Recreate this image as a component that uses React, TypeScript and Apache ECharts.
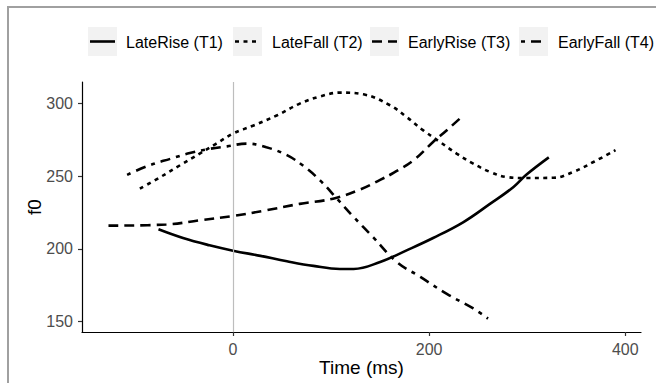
import React, { useEffect, useRef } from "react";
import * as echarts from "echarts";

const seriesNames = ["LateRise (T1)", "LateFall (T2)", "EarlyRise (T3)", "EarlyFall (T4)"];

const t1X = [-76, -51, -24, 0, 28, 55, 82, 109, 123, 150, 177, 204, 235, 262, 286, 299, 322];
const t1Y = [213.5, 207.5, 202.5, 198.8, 195.2, 191.5, 188.3, 186.2, 186.2, 191, 199, 207.5, 218.5, 231, 242.6, 251, 263];

const t2X = [-95, -74, -54, -34, -17, 0, 21, 45, 68, 89, 109, 133, 160, 177, 194, 211, 228, 245, 262, 279, 299, 327, 347, 368, 390];
const t2Y = [241.5, 249.5, 257.6, 265.6, 272.5, 279.4, 285, 292, 300, 305, 307.6, 306.4, 298.9, 290.8, 281.6, 273.6, 265.6, 258.7, 253, 249.5, 248.8, 249, 253, 260, 268];

const t3X = [-127, -68, -34, 0, 34, 68, 102, 130, 150, 164, 184, 204, 218, 233];
const t3Y = [216, 216.8, 219.7, 222.7, 226.6, 231, 234.6, 241, 247.5, 252.5, 261, 273.6, 281.7, 290.8];

const t4X = [-108, -85, -64, -44, -23, -6, 14, 34, 55, 72, 89, 106, 123, 143, 167, 191, 218, 245, 260];
const t4Y = [251, 257.6, 262, 266, 269, 270.6, 272.5, 270, 264.5, 257, 247, 234.6, 222, 208, 191, 180.7, 169, 159, 152];

const xTicks = [0, 200, 400];
const yTicks = [150, 200, 250, 300];

const FONT = "'Liberation Sans', Arial, sans-serif";
const dashTypes: any[] = ["solid", [4, 4.5], [10, 6], [4, 6, 10, 6]];

function pairs(xs: number[], ys: number[]) {
  return xs.map((x, i) => [x, ys[i]]);
}

export default function App() {
  const ref = useRef<HTMLDivElement>(null);
  useEffect(() => {
    if (!ref.current) return;
    const chart = echarts.init(ref.current, null, { renderer: "svg" });
    const allData = [pairs(t1X, t1Y), pairs(t2X, t2Y), pairs(t3X, t3Y), pairs(t4X, t4Y)];

    const keyX = [88, 233, 370, 519];
    const textX = [126, 272, 408, 558];
    const legendGraphics: any[] = [];
    seriesNames.forEach((name, i) => {
      legendGraphics.push({
        type: "rect",
        shape: { x: keyX[i], y: 27, width: 29, height: 29 },
        style: { fill: "#f2f2f2" },
        silent: true,
      });
      legendGraphics.push({
        type: "line",
        shape: { x1: keyX[i] + 2, y1: 41.5, x2: keyX[i] + 27, y2: 41.5 },
        style: {
          stroke: "#000",
          lineWidth: 2.6,
          lineDash: dashTypes[i] === "solid" ? null : dashTypes[i],
        },
        silent: true,
      });
      legendGraphics.push({
        type: "text",
        x: textX[i],
        y: 42,
        style: {
          text: name,
          fontSize: 16,
          fontFamily: FONT,
          fill: "#000",
          verticalAlign: "middle",
          align: "left",
        },
        silent: true,
      });
    });

    const option: any = {
      animation: false,
      backgroundColor: "#fff",
      grid: { left: 82, right: 15, top: 82, bottom: 51 },
      xAxis: {
        type: "value",
        min: -154,
        max: 416,
        name: "Time (ms)",
        nameLocation: "middle",
        nameGap: 26,
        nameMoveOverlap: false,
        nameTextStyle: { fontSize: 19, color: "#000", fontFamily: FONT },
        axisLine: { show: true, onZero: false, lineStyle: { color: "#000", width: 1.2 } },
        axisTick: { show: true, length: 4, customValues: xTicks, lineStyle: { color: "#333", width: 1.2 } },
        axisLabel: { customValues: xTicks, color: "#4d4d4d", fontSize: 16, fontFamily: FONT, margin: 9 },
        splitLine: { show: false },
      },
      yAxis: {
        type: "value",
        min: 142.8,
        max: 314.9,
        name: "f0",
        nameLocation: "middle",
        nameGap: 38,
        nameMoveOverlap: false,
        nameRotate: 90,
        nameTextStyle: { fontSize: 19, color: "#000", fontFamily: FONT },
        axisLine: { show: true, onZero: false, lineStyle: { color: "#000", width: 1.2 } },
        axisTick: { show: true, length: 4, customValues: yTicks, lineStyle: { color: "#333", width: 1.2 } },
        axisLabel: { customValues: yTicks, color: "#4d4d4d", fontSize: 16, fontFamily: FONT, margin: 9 },
        splitLine: { show: false },
      },
      graphic: [
        {
          type: "rect",
          shape: { x: 8, y: 7, width: 700, height: 420 },
          style: { fill: "none", stroke: "#a0a0a0", lineWidth: 2 },
          silent: true,
          z: 100,
        },
        ...legendGraphics,
      ],
      series: [
        {
          type: "line",
          name: "zero",
          data: [],
          silent: true,
          z: 1,
          markLine: {
            silent: true,
            symbol: "none",
            label: { show: false },
            lineStyle: { color: "#bdbdbd", width: 1.2, type: "solid" },
            data: [{ xAxis: 0 }],
          },
        },
        ...seriesNames.map((name, i) => ({
          type: "line",
          name,
          data: allData[i],
          smooth: 0.4,
          showSymbol: false,
          z: 3,
          lineStyle: { color: "#000", width: 2.6, type: dashTypes[i], cap: "butt" },
        })),
      ],
    };
    chart.setOption(option);
    return () => chart.dispose();
  }, []);
  return (
    <div
      ref={ref}
      style={{ position: "fixed", left: 0, top: 0, width: 656, height: 383 }}
    />
  );
}
